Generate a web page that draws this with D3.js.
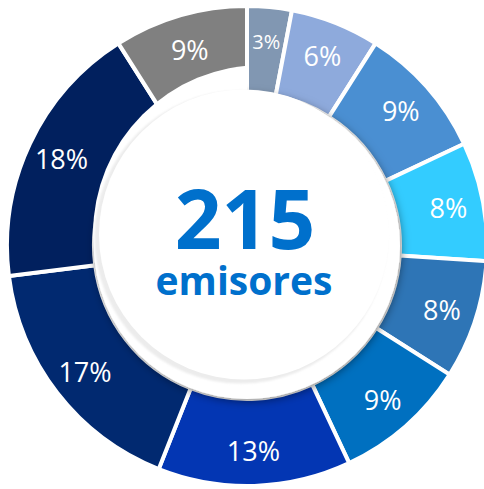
<!DOCTYPE html>
<html>
<head>
<meta charset="utf-8">
<script src="https://cdn.jsdelivr.net/npm/d3@7"></script>
<style>
  html, body { margin: 0; padding: 0; background: #fff; }
  svg { display: block; }
</style>
</head>
<body>
<div id="chart"></div>
<script>
// shares of the 215 issuers, clockwise from 12 o'clock
const shares = [3, 6, 9, 8, 8, 9, 13, 17, 18, 9];
const colors = ['#8197b2', '#8eaadc', '#4a8fd2', '#33ccff', '#2e75b6',
                '#0070c0', '#0336b3', '#012970', '#01205e', '#808080'];
const centerValue = '215';
const centerLabel = 'emisores';

const width = 484, height = 489;
const cx = 247, cy = 246;
const outerR = 240, innerR = 153;

const svg = d3.select('#chart').append('svg')
  .attr('width', width)
  .attr('height', height);

const defs = svg.append('defs');

const shadow = defs.append('filter')
  .attr('id', 'discShadow')
  .attr('x', '-20%').attr('y', '-20%')
  .attr('width', '140%').attr('height', '140%');
shadow.append('feDropShadow')
  .attr('dx', 1).attr('dy', 2)
  .attr('stdDeviation', 5)
  .attr('flood-color', '#000')
  .attr('flood-opacity', 0.5);

const soft = defs.append('filter').attr('id', 'soft');
soft.append('feGaussianBlur').attr('stdDeviation', 1.2);

const pie = d3.pie().sort(null).value(d => d);
const arcs = pie(shares);

const arc = d3.arc().innerRadius(innerR).outerRadius(outerR);
const labelArc = d3.arc().innerRadius(205).outerRadius(205);

const g = svg.append('g').attr('transform', `translate(${cx},${cy})`);

g.selectAll('path.slice')
  .data(arcs)
  .join('path')
  .attr('class', 'slice')
  .attr('d', arc)
  .attr('fill', (d, i) => colors[i])
  .attr('stroke', '#fff')
  .attr('stroke-width', 4)
  .attr('stroke-linejoin', 'miter');

// center disc with its shadow on the ring
g.append('circle')
  .attr('r', innerR)
  .attr('fill', '#fff')
  .attr('filter', 'url(#discShadow)');

// the last two slices are cut by a wider white circle
const wedge = d3.arc().innerRadius(0).outerRadius(outerR + 5)
  .startAngle(arcs[8].startAngle + 0.01)
  .endAngle(2 * Math.PI);
defs.append('clipPath').attr('id', 'wedgeClip')
  .append('path')
  .attr('d', wedge());
g.append('circle')
  .attr('cx', 15).attr('cy', -12)
  .attr('r', 169)
  .attr('fill', '#fff')
  .attr('clip-path', 'url(#wedgeClip)');

// inner lip of the disc
g.append('circle')
  .attr('cx', -6).attr('cy', -9)
  .attr('r', 146.5)
  .attr('fill', '#ececec')
  .attr('filter', 'url(#soft)');
g.append('circle')
  .attr('cx', -3).attr('cy', -11.5)
  .attr('r', 145)
  .attr('fill', '#fff');

g.selectAll('text.pct')
  .data(arcs)
  .join('text')
  .attr('class', 'pct')
  .attr('transform', d => `translate(${labelArc.centroid(d)})`)
  .attr('text-anchor', 'middle')
  .attr('dominant-baseline', 'central')
  .attr('fill', '#fff')
  .style('font-family', '"Open Sans", sans-serif')
  .style('font-size', d => d.data < 5 ? '20px' : '27px')
  .text(d => d.data + '%');

g.append('text')
  .attr('x', -2).attr('y', 3)
  .attr('text-anchor', 'middle')
  .attr('fill', '#0070cc')
  .style('font-family', '"Open Sans", sans-serif')
  .style('font-weight', 700)
  .style('font-size', '82px')
  .text(centerValue);

g.append('text')
  .attr('x', -3).attr('y', 49)
  .attr('text-anchor', 'middle')
  .attr('fill', '#0070cc')
  .style('font-family', '"Open Sans", sans-serif')
  .style('font-weight', 700)
  .style('font-size', '39px')
  .text(centerLabel);
</script>
</body>
</html>
